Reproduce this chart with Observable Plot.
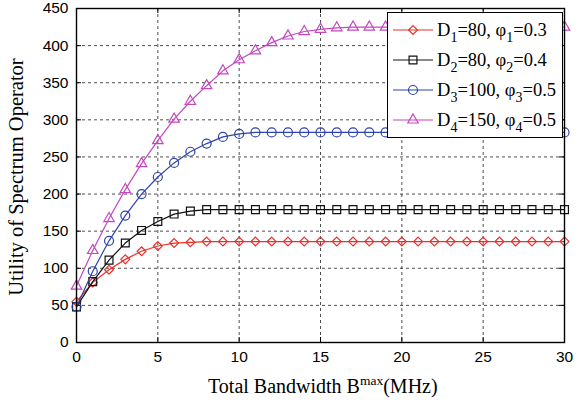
<!DOCTYPE html>
<html>
<head>
<meta charset="utf-8">
<script src="https://cdn.jsdelivr.net/npm/d3@7"></script>
<script src="https://cdn.jsdelivr.net/npm/@observablehq/plot@0.6"></script>
<style>
  body { margin: 0; background: white; }
  #wrap { position: relative; width: 581px; height: 403px; font-family: "Liberation Serif", serif; color: black; }
  .xlabel { position: absolute; left: 208px; top: 375px; font-size: 20px; line-height: 22px; white-space: nowrap; }
  .xlabel sup { font-size: 13.5px; vertical-align: 8px; line-height: 0; }
  .ylabel { position: absolute; left: 16px; top: 177px; font-size: 20.5px; line-height: 22px; white-space: nowrap; transform: translate(-50%, -50%) rotate(-90deg); }
  #legend { position: absolute; left: 387px; top: 12px; width: 176px; height: 126px; border: 1px solid black; background: white; box-sizing: border-box; }
  .row { position: absolute; left: 5px; height: 30px; display: flex; align-items: center; font-size: 18.5px; white-space: nowrap; }
  .row svg { margin-right: 4px; }
  .row sub { font-size: 14px; vertical-align: -6px; line-height: 0; }
</style>
</head>
<body>
<div id="wrap">
  <div id="chart"></div>
  <div class="xlabel">Total Bandwidth B<sup>max</sup>(MHz)</div>
  <div class="ylabel">Utility of Spectrum Operator</div>
  <div id="legend"></div>
</div>
<script>
// Data
const bandwidth = [0,1,2,3,4,5,6,7,8,9,10,11,12,13,14,15,16,17,18,19,20,21,22,23,24,25,26,27,28,29,30];
const utilD1 = [55,81,98,112,123,130,134,135,136,136,136,136,136,136,136,136,136,136,136,136,136,136,136,136,136,136,136,136,136,136,136];
const utilD2 = [48,82,111,134,151,163,173,177,179,179,179,179,179,179,179,179,179,179,179,179,179,179,179,179,179,179,179,179,179,179,179];
const utilD3 = [48,96,137,171,200,223,242,257,268,277,281,283,283,283,283,283,283,283,283,283,283,283,283,283,283,283,283,283,283,283,283];
const utilD4 = [76,124,167,206,241,272,301,325,346,366,381,393,404,413,419,422,424,425,425,425,425,425,425,425,425,425,425,425,425,425,425];
const seriesNames = ["D1", "D2", "D3", "D4"];
const legendLabels = [
  ["1", "80", "1", "0.3"],
  ["2", "80", "2", "0.4"],
  ["3", "100", "3", "0.5"],
  ["4", "150", "4", "0.5"]
];
const xTicks = [0,5,10,15,20,25,30];
const yTicks = [0,50,100,150,200,250,300,350,400,450];

const colors = ["#e8302a", "#111111", "#2f44a8", "#c447c0"];
const symbols = ["diamond2", "square2", "circle", "triangle2"];
const radii = [4, 5, 4.5, 5];
const allUtil = [utilD1, utilD2, utilD3, utilD4];

const data = [];
allUtil.forEach((arr, s) => arr.forEach((v, i) => data.push({series: seriesNames[s], x: bandwidth[i], y: v})));

const W = 581, H = 403, mL = 76, mR = 17, mT = 8, mB = 61;
const plotW = W - mL - mR, plotH = H - mT - mB;

const marks = [
  Plot.gridX(xTicks, {stroke: "#000", strokeOpacity: 1, strokeWidth: 0.7, strokeDasharray: "3,3"}),
  Plot.gridY(yTicks, {stroke: "#000", strokeOpacity: 1, strokeWidth: 0.7, strokeDasharray: "3,3"}),
  Plot.ruleX(xTicks, {insetTop: plotH - 5, stroke: "#000"}),
  Plot.ruleX(xTicks, {insetBottom: plotH - 5, stroke: "#000"}),
  Plot.ruleY(yTicks, {insetRight: plotW - 5, stroke: "#000"}),
  Plot.ruleY(yTicks, {insetLeft: plotW - 5, stroke: "#000"}),
];
seriesNames.forEach((name, s) => {
  const d = data.filter(p => p.series === name);
  marks.push(Plot.line(d, {x: "x", y: "y", stroke: colors[s], strokeWidth: 1.2}));
  marks.push(Plot.dot(d, {x: "x", y: "y", stroke: colors[s], fill: "none", symbol: symbols[s], r: radii[s], strokeWidth: 1.2}));
});
marks.push(Plot.axisX(xTicks, {tickSize: 0, tickPadding: 8, fontSize: 15.5, label: null}));
marks.push(Plot.axisY(yTicks, {tickSize: 0, tickPadding: 8, fontSize: 15.5, label: null}));
marks.push(Plot.frame({stroke: "#000", strokeWidth: 1.4}));

const chart = Plot.plot({
  width: W, height: H,
  marginLeft: mL, marginRight: mR, marginTop: mT, marginBottom: mB,
  x: {domain: [0, 30]},
  y: {domain: [0, 450]},
  style: {fontFamily: "Liberation Sans, Arial, sans-serif", fontSize: "15.5px", color: "black", background: "white"},
  marks
});
document.getElementById("chart").appendChild(chart);

// Legend
const legend = document.getElementById("legend");
legendLabels.forEach((lab, s) => {
  const row = document.createElement("div");
  row.className = "row";
  row.style.top = (2 + s * 30) + "px";
  const sym = d3.symbol().type({diamond2: d3.symbolDiamond2, square2: d3.symbolSquare2, circle: d3.symbolCircle, triangle2: d3.symbolTriangle2}[symbols[s]]).size(Math.PI * radii[s] * radii[s]);
  row.innerHTML = `<svg width="40" height="20"><line x1="0" x2="40" y1="10" y2="10" stroke="${colors[s]}" stroke-width="1.2"/><path d="${sym()}" transform="translate(20,10)" fill="none" stroke="${colors[s]}" stroke-width="1.2"/></svg>` +
    `<span>D<sub>${lab[0]}</sub>=${lab[1]}, φ<sub>${lab[2]}</sub>=${lab[3]}</span>`;
  legend.appendChild(row);
});
</script>
</body>
</html>
